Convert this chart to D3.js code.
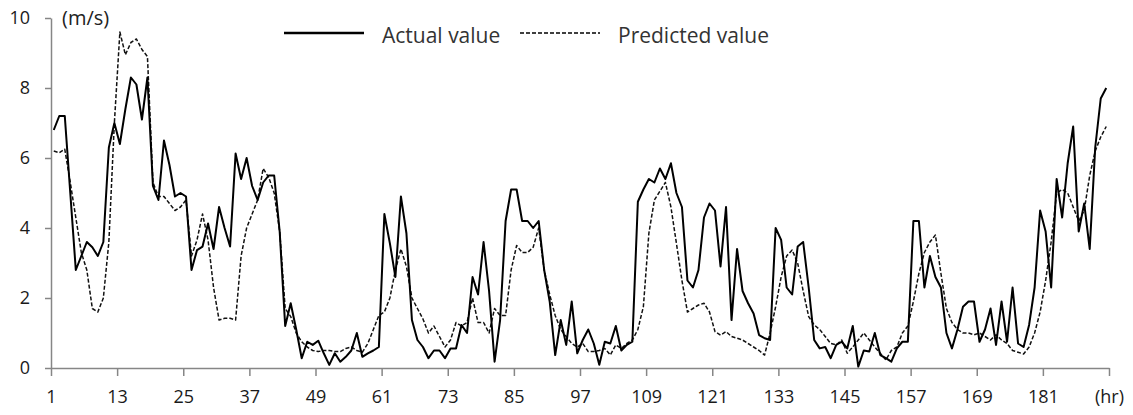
<!DOCTYPE html>
<html>
<head>
<meta charset="utf-8">
<script src="https://cdn.jsdelivr.net/npm/d3@7/dist/d3.min.js"></script>
<style>
  body { margin: 0; background: #fff; }
  text { font-family: "Open Sans", "Noto Sans", sans-serif; }
</style>
</head>
<body>
<svg class="data-chart" width="1133" height="415"></svg>
<script>
// wind speed, hourly (m/s)
var actual = [
  6.8, 7.2, 7.2, 5.0, 2.8, 3.2, 3.6, 3.45, 3.2, 3.6,
  6.3, 7.0, 6.4, 7.4, 8.3, 8.1, 7.1, 8.3, 5.2, 4.8,
  6.5, 5.8, 4.9, 5.0, 4.9, 2.8, 3.37, 3.47, 4.13, 3.4,
  4.6, 4.0, 3.47, 6.13, 5.4, 6.0, 5.2, 4.8, 5.3, 5.5,
  5.5, 3.9, 1.2, 1.85, 1.1, 0.28, 0.75, 0.66, 0.78, 0.42,
  0.09, 0.42, 0.18, 0.32, 0.5, 1.0, 0.32, 0.42, 0.5, 0.6,
  4.4, 3.56, 2.6, 4.9, 3.85, 1.37, 0.8, 0.6, 0.28, 0.5,
  0.5, 0.28, 0.56, 0.56, 1.23, 1.0, 2.6, 2.1, 3.6, 2.2,
  0.18, 1.37, 4.2, 5.1, 5.1, 4.2, 4.2, 4.0, 4.2, 2.8,
  1.9, 0.37, 1.37, 0.66, 1.9, 0.42, 0.8, 1.1, 0.7, 0.09,
  0.75, 0.7, 1.2, 0.5, 0.66, 0.75, 4.75, 5.1, 5.4, 5.3,
  5.7, 5.4, 5.85, 5.0, 4.6, 2.5, 2.3, 2.8, 4.3, 4.7,
  4.5, 2.9, 4.6, 1.37, 3.4, 2.2, 1.85, 1.56, 0.94, 0.85,
  0.8, 4.0, 3.66, 2.3, 2.1, 3.47, 3.6, 2.3, 0.8, 0.56,
  0.6, 0.28, 0.66, 0.75, 0.56, 1.2, 0.04, 0.5, 0.47, 1.0,
  0.37, 0.28, 0.18, 0.56, 0.75, 0.75, 4.2, 4.2, 2.3, 3.2,
  2.6, 2.3, 1.0, 0.56, 1.1, 1.75, 1.9, 1.9, 0.75, 1.1,
  1.7, 0.66, 1.9, 0.75, 2.3, 0.7, 0.6, 1.23, 2.3, 4.5,
  3.9, 2.3, 5.4, 4.3, 5.85, 6.9, 3.9, 4.7, 3.4, 6.3,
  7.7, 8.0
];
var predicted = [
  6.2, 6.15, 6.25, 5.3, 4.3, 3.3, 2.8, 1.7, 1.6, 2.0,
  3.6, 7.0, 9.6, 8.95, 9.3, 9.4, 9.1, 8.9, 5.3, 4.9,
  4.9, 4.7, 4.5, 4.6, 4.8, 3.2, 3.66, 4.4, 3.66, 2.3,
  1.37, 1.42, 1.42, 1.37, 3.2, 4.0, 4.4, 4.8, 5.7, 5.45,
  5.0, 3.9, 1.7, 1.47, 1.0, 0.75, 0.6, 0.5, 0.47, 0.5,
  0.5, 0.47, 0.47, 0.56, 0.6, 0.5, 0.45, 0.7, 1.1, 1.5,
  1.6, 2.0, 2.8, 3.4, 2.9, 2.0, 1.7, 1.4, 1.0, 1.2,
  0.9, 0.6, 0.8, 1.3, 1.2, 1.3, 2.0, 1.3, 1.3, 1.0,
  1.7, 1.5, 1.5, 2.8, 3.5, 3.3, 3.3, 3.45, 4.0, 2.8,
  2.1, 1.5, 1.1, 0.9, 0.7, 0.6, 0.7, 0.47, 0.47, 0.5,
  0.56, 0.37, 0.66, 0.56, 0.7, 0.8, 1.1, 1.75, 3.85, 4.8,
  5.05, 5.3, 4.6, 3.56, 2.5, 1.6, 1.7, 1.8, 1.85, 1.6,
  1.04, 0.94, 1.04, 0.9, 0.85, 0.8, 0.7, 0.6, 0.5, 0.37,
  1.0, 1.75, 2.6, 3.2, 3.37, 3.0, 2.2, 1.47, 1.23, 1.1,
  0.9, 0.7, 0.66, 0.8, 0.42, 0.6, 0.8, 1.0, 0.8, 0.6,
  0.42, 0.23, 0.5, 0.6, 1.0, 1.2, 1.9, 2.7, 3.3, 3.6,
  3.8, 2.7, 1.7, 1.3, 1.1, 1.0, 1.0, 0.95, 1.0, 0.9,
  0.8, 0.95, 0.8, 0.7, 0.5, 0.45, 0.4, 0.6, 1.0, 1.6,
  2.5, 3.6, 5.0, 5.1, 5.0, 4.6, 4.2, 4.5, 5.5, 6.2,
  6.6, 6.9
];
var xTickLabels = ["1", "13", "25", "37", "49", "61", "73", "85", "97", "109",
  "121", "133", "145", "157", "169", "181", "(hr)"];
var yTicks = [0, 2, 4, 6, 8, 10];
var seriesNames = ["Actual value", "Predicted value"];

var svg = d3.select(".data-chart"),
  margin = { top: 18, right: 24, bottom: 47, left: 51 },
  width = +svg.attr("width") - margin.left - margin.right,
  height = +svg.attr("height") - margin.top - margin.bottom,
  g = svg
    .append("g")
    .attr("transform", "translate(" + margin.left + "," + margin.top + ")");

// categories sit between tick marks, like the spreadsheet chart
var x = d3.scaleLinear().domain([0.5, actual.length + 0.5]).range([0, width]);
var y = d3.scaleLinear().domain([0, 10]).range([height, 0]);

var tickPos = xTickLabels.map(function(d, i) {
  return 0.5 + i * 12;
});

var xAxis = g
  .append("g")
  .attr("transform", "translate(0," + height + ")")
  .call(
    d3
      .axisBottom(x)
      .tickValues(tickPos)
      .tickSize(8)
      .tickSizeOuter(0)
      .tickPadding(14)
      .tickFormat(function(d, i) {
        return xTickLabels[i];
      })
  );

var yAxis = g.append("g").call(
  d3
    .axisLeft(y)
    .tickValues(yTicks)
    .tickSize(6)
    .tickSizeOuter(0)
    .tickPadding(15)
);

[xAxis, yAxis].forEach(function(a) {
  a.select(".domain").attr("stroke", "#868686").attr("stroke-width", 1.5);
  a.selectAll(".tick line").attr("stroke", "#868686").attr("stroke-width", 1.5);
  a.selectAll(".tick text")
    .attr("fill", "#1a1a1a")
    .style("font-size", "18px");
});

g
  .append("text")
  .attr("x", 11)
  .attr("y", 7)
  .attr("fill", "#222")
  .style("font-size", "20px")
  .text("(m/s)");

var line = d3
  .line()
  .x(function(d, i) {
    return x(i + 1);
  })
  .y(function(d) {
    return y(d);
  });

g
  .append("path")
  .datum(predicted)
  .attr("fill", "none")
  .attr("stroke", "#111")
  .attr("stroke-width", 1.5)
  .attr("stroke-dasharray", "4,2")
  .attr("stroke-linejoin", "round")
  .attr("d", line);

g
  .append("path")
  .datum(actual)
  .attr("fill", "none")
  .attr("stroke", "#000")
  .attr("stroke-width", 2)
  .attr("stroke-linejoin", "round")
  .attr("d", line);

// legend
var legend = svg.append("g");
var legendX = [284, 520];
seriesNames.forEach(function(name, i) {
  legend
    .append("line")
    .attr("x1", legendX[i])
    .attr("x2", legendX[i] + 80)
    .attr("y1", 33)
    .attr("y2", 33)
    .attr("stroke", "#000")
    .attr("stroke-width", i == 0 ? 2.5 : 1.3)
    .attr("stroke-dasharray", i == 0 ? null : "4,2");
  legend
    .append("text")
    .attr("x", legendX[i] + 98)
    .attr("y", 43)
    .attr("fill", "#333")
    .style("font-size", "21px")
    .text(name);
});
</script>
</body>
</html>
